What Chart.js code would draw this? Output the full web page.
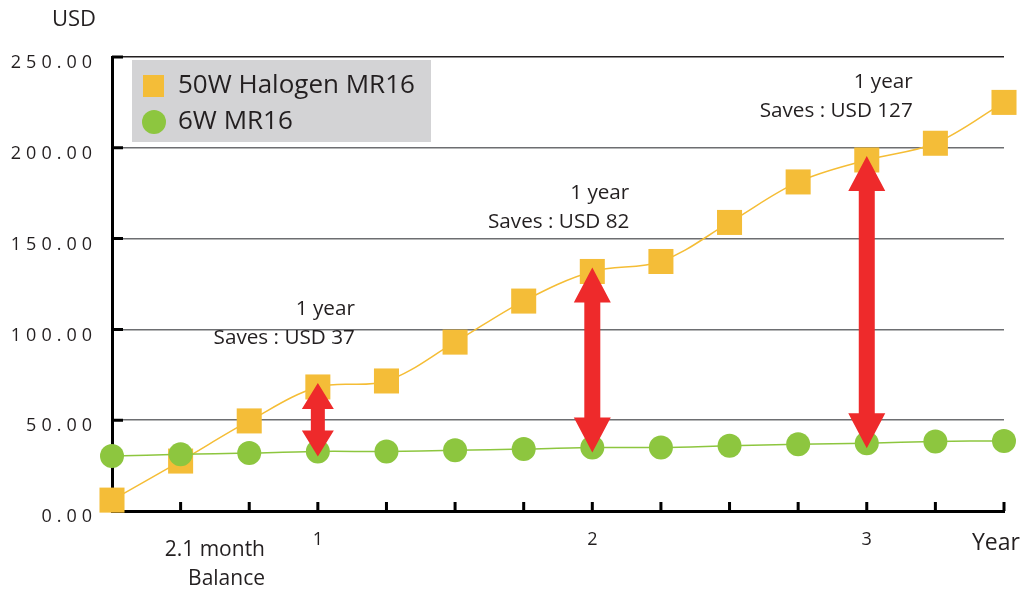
<!DOCTYPE html>
<html>
<head>
<meta charset="utf-8">
<script src="https://cdn.jsdelivr.net/npm/chart.js@4.4.0/dist/chart.umd.min.js"></script>
<style>
  html, body { margin: 0; padding: 0; background: #fff; }
  #wrap { width: 1022px; height: 593px; }
</style>
</head>
<body>
<div id="wrap"><canvas id="myChart" width="1022" height="593"></canvas></div>
<script>
// data
const steps = ['0', '1', '2', '3', '4', '5', '6', '7', '8', '9', '10', '11', '12', '13'];
const xTickLabels = ['', '', '', '1', '', '', '', '2', '', '', '', '3', '', ''];
const halogenCost = [6, 27.5, 49.6, 68.3, 71.6, 93, 115.6, 131.9, 137.4, 158.9, 181.2, 193.3, 202.5, 225];
const ledCost = [30.3, 31.2, 31.9, 32.8, 32.8, 33.4, 34.1, 35, 35, 35.9, 36.7, 37.3, 38.3, 38.6];
const arrowSteps = [3, 7, 11];
const savings = [37, 82, 127];

const textColor = '#231f20';
const font = '"Open Sans", "Noto Sans", sans-serif';

function drawArrow(ctx, px, top, bot, hw, hh, sw) {
    ctx.beginPath();
    ctx.moveTo(px, top);
    ctx.lineTo(px + hw / 2, top + hh);
    ctx.lineTo(px + sw / 2, top + hh);
    ctx.lineTo(px + sw / 2, bot - hh);
    ctx.lineTo(px + hw / 2, bot - hh);
    ctx.lineTo(px, bot);
    ctx.lineTo(px - hw / 2, bot - hh);
    ctx.lineTo(px - sw / 2, bot - hh);
    ctx.lineTo(px - sw / 2, top + hh);
    ctx.lineTo(px - hw / 2, top + hh);
    ctx.closePath();
    ctx.fill();
}

const extras = {
    id: 'extras',
    beforeDatasetsDraw(chart) {
        const { ctx, chartArea: a, scales: { x, y } } = chart;
        ctx.save();
        // inward ticks
        ctx.strokeStyle = '#000';
        ctx.lineWidth = 3;
        ctx.beginPath();
        steps.forEach((s, i) => {
            if (i === 0) return;
            const px = x.getPixelForValue(i);
            ctx.moveTo(px, a.bottom);
            ctx.lineTo(px, a.bottom - 9);
        });
        y.ticks.forEach(t => {
            if (t.value === 0) return;
            const py = y.getPixelForValue(t.value);
            ctx.moveTo(a.left, py);
            ctx.lineTo(a.left + 11, py);
        });
        ctx.stroke();

        // y labels, spaced out
        ctx.fillStyle = textColor;
        ctx.font = '18px ' + font;
        ctx.textAlign = 'right';
        ctx.textBaseline = 'middle';
        ctx.letterSpacing = '5px';
        y.ticks.forEach(t => {
            ctx.fillText(t.value.toFixed(2), a.left - 15, y.getPixelForValue(t.value) + 6);
        });
        ctx.letterSpacing = '0px';

        // axis captions
        ctx.font = '22px ' + font;
        ctx.textAlign = 'center';
        ctx.fillText('USD', 74, 20);
        ctx.font = '23px ' + font;
        ctx.textAlign = 'left';
        ctx.fillText('Year', 972, 543);
        ctx.font = '21px ' + font;
        ctx.textAlign = 'right';
        ctx.fillText('2.1 month', 265, 550);
        ctx.fillText('Balance', 265, 579);

        // legend box
        ctx.fillStyle = '#d3d3d5';
        ctx.fillRect(132, 60, 299, 82);
        ctx.font = '26px ' + font;
        ctx.textAlign = 'left';
        chart.data.datasets.forEach((ds, i) => {
            const cy = 86 + i * 36;
            ctx.fillStyle = ds.backgroundColor;
            if (ds.pointStyle === 'rect') {
                ctx.fillRect(143, cy - 11, 21, 22);
            } else {
                ctx.beginPath();
                ctx.arc(154, cy, 12, 0, Math.PI * 2);
                ctx.fill();
            }
            ctx.fillStyle = textColor;
            ctx.fillText(ds.label, 178, cy);
        });
        ctx.restore();
    },
    afterDatasetsDraw(chart) {
        const { ctx, scales: { x, y } } = chart;
        ctx.save();
        arrowSteps.forEach((idx, k) => {
            const px = x.getPixelForValue(idx);
            const top = y.getPixelForValue(halogenCost[idx]) - 4;
            const bot = y.getPixelForValue(ledCost[idx]) + 5;
            ctx.fillStyle = '#ee2a2b';
            if (bot - top < 120) drawArrow(ctx, px, top, bot, 32, 26, 14);
            else drawArrow(ctx, px, top, bot, 37, 35, 16);

            const hy = y.getPixelForValue(halogenCost[idx]);
            const right = px + (k === 2 ? 46 : 37);
            ctx.fillStyle = textColor;
            ctx.font = '20.7px ' + font;
            ctx.textAlign = 'right';
            ctx.textBaseline = 'middle';
            ctx.fillText('1 year', right, hy - 78);
            ctx.fillText('Saves : USD ' + savings[k], right, hy - 49);
        });
        ctx.restore();
    }
};

const ctx = document.getElementById('myChart');
new Chart(ctx, {
    type: 'line',
    data: {
        labels: steps,
        datasets: [{
            label: '50W Halogen MR16',
            data: halogenCost,
            borderColor: '#f5bd35',
            backgroundColor: '#f4bd38',
            borderWidth: 1.5,
            pointStyle: 'rect',
            pointRadius: 17.7,
            pointHoverRadius: 17.7,
            pointBorderWidth: 0,
            tension: 0.35,
            order: 2,
            clip: false
        }, {
            label: '6W MR16',
            data: ledCost,
            borderColor: '#8dc63f',
            backgroundColor: '#8dc63f',
            borderWidth: 1.5,
            pointStyle: 'circle',
            pointRadius: 12,
            pointHoverRadius: 12,
            pointBorderWidth: 0,
            tension: 0.3,
            order: 1,
            clip: false
        }]
    },
    options: {
        responsive: false,
        animation: false,
        events: [],
        layout: { padding: { top: 57, right: 18, left: 0, bottom: 0 } },
        plugins: {
            legend: { display: false },
            tooltip: { enabled: false }
        },
        scales: {
            x: {
                grid: { drawOnChartArea: false, drawTicks: false },
                border: { display: true, color: '#000', width: 3 },
                ticks: {
                    autoSkip: false,
                    maxRotation: 0,
                    padding: 18,
                    color: textColor,
                    font: { family: 'Open Sans', size: 18 },
                    callback: (v, i) => xTickLabels[i]
                },
                afterFit: s => { s.height = 82; }
            },
            y: {
                min: 0,
                max: 250,
                ticks: { stepSize: 50, display: false },
                grid: {
                    drawTicks: false,
                    lineWidth: 1.5,
                    color: c => c.tick.value === 0 ? 'rgba(0,0,0,0)' : (c.tick.value === 250 ? '#231f20' : '#6d6e71')
                },
                border: { display: true, color: '#000', width: 3 },
                afterFit: s => { s.width = 112; }
            }
        }
    },
    plugins: [extras]
});
</script>
</body>
</html>
